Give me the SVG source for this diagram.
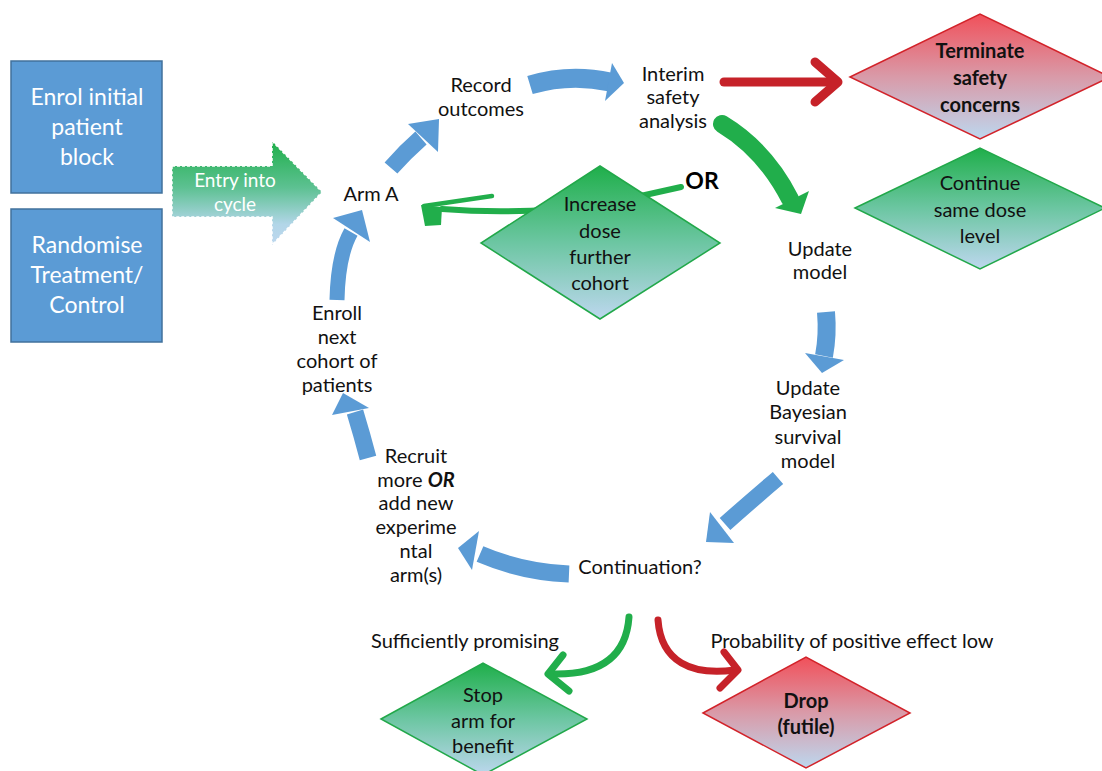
<svg xmlns="http://www.w3.org/2000/svg" width="1102" height="771" viewBox="0 0 1102 771">
<defs>
<linearGradient id="gGreen" x1="0" y1="0" x2="0" y2="1">
<stop offset="0" stop-color="#1FAF4A"/>
<stop offset="0.5" stop-color="#6CC6A2"/>
<stop offset="1" stop-color="#BDD7EE"/>
</linearGradient>
<linearGradient id="gRed" x1="0" y1="0" x2="0" y2="1">
<stop offset="0" stop-color="#F1505A"/>
<stop offset="0.5" stop-color="#D99AA8"/>
<stop offset="1" stop-color="#BDD7EE"/>
</linearGradient>
<linearGradient id="gEntry" x1="0" y1="0" x2="0" y2="1">
<stop offset="0" stop-color="#1FAF4A"/>
<stop offset="0.45" stop-color="#5DC192"/>
<stop offset="0.8" stop-color="#B2D6E8"/>
<stop offset="1" stop-color="#BDD7EE"/>
</linearGradient>
</defs>
<style>
text{font-family:Lato,"Open Sans","Liberation Sans",sans-serif;}
.box{fill:#5B9BD5;stroke:#41719C;stroke-width:1.5;}
.bt{fill:#fff;font-size:23px;text-anchor:middle;}
.lb{fill:#111;font-size:20px;text-anchor:middle;}
.dt{fill:#111;font-size:20px;text-anchor:middle;}
.bold{font-weight:bold;}
.dg{fill:url(#gGreen);stroke:#22A84A;stroke-width:1.5;}
.dr{fill:url(#gRed);stroke:#D2232A;stroke-width:1.5;}
.bs{fill:none;stroke:#5B9BD5;}
.bh{fill:#5B9BD5;}
.gs{fill:none;stroke:#21AE4B;stroke-linecap:round;stroke-linejoin:round;}
.rs{fill:none;stroke:#C62229;stroke-linecap:round;stroke-linejoin:round;}
</style>
<rect width="1102" height="771" fill="#fff"/>
<g id="connectors">
<g id="c-record-interim"><path class="bs" stroke-width="19" d="M530 85 Q570 73 610 82"/><polygon class="bh" points="612,63 624,83 605,101"/></g>
<g id="c-arm-record"><path class="bs" stroke-width="17" d="M391 168 Q405 152 421 138"/><polygon class="bh" points="408,124 439,119 438,152"/></g>
<g id="c-enroll-arm"><path class="bs" stroke-width="15" d="M337 300 Q338 255 351 232"/><polygon class="bh" points="333,218 362,210 370,242"/></g>
<g id="c-recruit-enroll"><path class="bs" stroke-width="17" d="M368 458 Q362 435 355 412"/><polygon class="bh" points="332,415 343,393 369,408"/></g>
<g id="c-cont-recruit"><path class="bs" stroke-width="17" d="M569 574 Q522 572 480 554"/><polygon class="bh" points="479,531 458,548 472,570"/></g>
<g id="c-bayes-cont"><path class="bs" stroke-width="16" d="M778 478 Q752 500 725 524"/><polygon class="bh" points="710,512 706,542 734,543"/></g>
<g id="c-model-bayes"><path class="bs" stroke-width="18" d="M826 312 Q828 335 824 356"/><polygon class="bh" points="805,353 844,360 822,373"/></g>
<g id="c-interim-model"><path class="gs" stroke-linecap="butt" stroke-width="18" d="M722 124 Q765 150 790 199"/><polygon fill="#21AE4B" points="775,208 809,191 801,214"/></g>
<g id="c-interim-terminate"><path class="rs" stroke-width="9" d="M724 82 L836 82"/><path class="rs" stroke-width="9" d="M815 62 L838 82 L815 102"/></g>
<g id="c-or-arm"><path class="gs" stroke-width="6" d="M681 187 Q640 196 600 205 Q520 215 442 209"/><path class="gs" stroke-width="4.5" d="M424 206 L492 196"/><polygon fill="#21AE4B" points="421,205 442,207 441,225 425,226"/></g>
<g id="c-cont-stop"><path class="gs" stroke-width="7" d="M629 617 C626 660 596 675 553 674"/><path class="gs" stroke-width="7" d="M563 655 L548 674 L569 691"/></g>
<g id="c-cont-drop"><path class="rs" stroke-width="7" d="M658 620 C661 662 692 676 735 670"/><path class="rs" stroke-width="7" d="M724 652 L738 670 L720 688"/></g>
</g>
<g id="n-enrol"><rect class="box" x="11" y="61" width="151" height="132"/><text class="bt" x="87" y="105">Enrol initial</text><text class="bt" x="87" y="135">patient</text><text class="bt" x="87" y="165">block</text></g>
<g id="n-randomise"><rect class="box" x="11" y="209" width="151" height="133"/><text class="bt" x="87" y="253">Randomise</text><text class="bt" x="87" y="283">Treatment/</text><text class="bt" x="87" y="313">Control</text></g>
<g id="n-entry"><polygon points="172,166 272,166 272,141 322,192 272,245 272,217 172,217" fill="url(#gEntry)" stroke="#fff" stroke-width="1.5" stroke-dasharray="3 2"/><text fill="#fff" font-size="19" text-anchor="middle" x="235" y="187">Entry into</text><text fill="#fff" font-size="19" text-anchor="middle" x="235" y="211">cycle</text></g>
<g id="n-arm"><text class="lb" x="371" y="201">Arm A</text></g>
<g id="n-record"><text class="lb" x="481" y="92">Record</text><text class="lb" x="481" y="116">outcomes</text></g>
<g id="n-interim"><text class="lb" x="673" y="81">Interim</text><text class="lb" x="673" y="104">safety</text><text class="lb" x="673" y="128">analysis</text></g>
<g id="n-terminate"><polygon class="dr" points="850,77 980,14 1110,77 980,139"/><text class="dt bold" x="980" y="58">Terminate</text><text class="dt bold" x="980" y="85">safety</text><text class="dt bold" x="980" y="112">concerns</text></g>
<g id="n-continue"><polygon class="dg" points="855,208 980,148 1105,208 980,269"/><text class="dt" x="980" y="190">Continue</text><text class="dt" x="980" y="217">same dose</text><text class="dt" x="980" y="243">level</text></g>
<g id="n-or"><text fill="#000" font-size="23" font-weight="bold" text-anchor="middle" x="702" y="189">OR</text></g>
<g id="n-increase"><polygon class="dg" points="600,166 720,243 600,319 481,243"/><text class="dt" x="600" y="211">Increase</text><text class="dt" x="600" y="238">dose</text><text class="dt" x="600" y="264">further</text><text class="dt" x="600" y="290">cohort</text></g>
<g id="n-update-model"><text class="lb" x="820" y="256">Update</text><text class="lb" x="820" y="279">model</text></g>
<g id="n-bayes"><text class="lb" x="808" y="395">Update</text><text class="lb" x="808" y="419">Bayesian</text><text class="lb" x="808" y="444">survival</text><text class="lb" x="808" y="468">model</text></g>
<g id="n-continuation"><text class="lb" x="640" y="574">Continuation?</text></g>
<g id="n-recruit"><text class="lb" x="416" y="463">Recruit</text><text class="lb" x="416" y="487">more <tspan font-weight="bold" font-style="italic">OR</tspan></text><text class="lb" x="416" y="510">add new</text><text class="lb" x="416" y="534">experime</text><text class="lb" x="416" y="558">ntal</text><text class="lb" x="416" y="582">arm(s)</text></g>
<g id="n-enroll"><text class="lb" x="337" y="320">Enroll</text><text class="lb" x="337" y="344">next</text><text class="lb" x="337" y="368">cohort of</text><text class="lb" x="337" y="392">patients</text></g>
<g id="n-sufficient"><text class="lb" x="465" y="648">Sufficiently promising</text></g>
<g id="n-probability"><text class="lb" x="852" y="648">Probability of positive effect low</text></g>
<g id="n-stop"><polygon class="dg" points="381,719 483,663 587,719 483,775"/><text class="dt" x="483" y="702">Stop</text><text class="dt" x="483" y="728">arm for</text><text class="dt" x="483" y="753">benefit</text></g>
<g id="n-drop"><polygon class="dr" points="703,713 806,657 910,713 806,768"/><text class="dt bold" x="806" y="708">Drop</text><text class="dt bold" x="806" y="734">(futile)</text></g>
</svg>
